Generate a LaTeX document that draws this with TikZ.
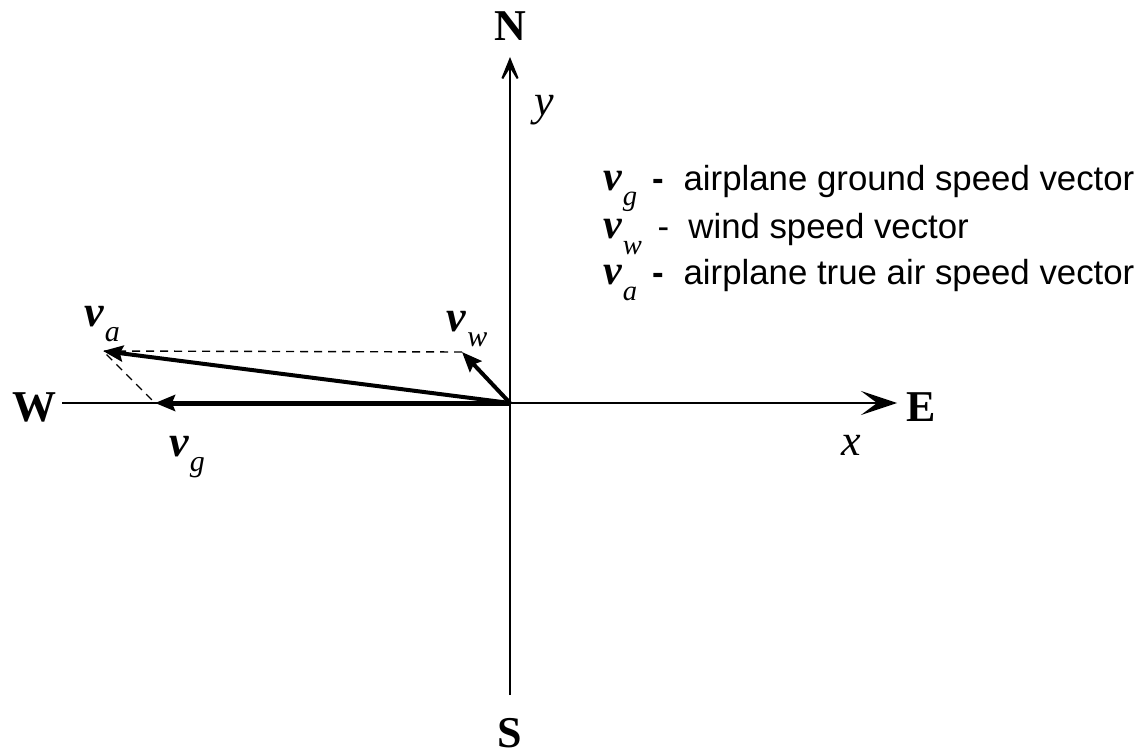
\documentclass[tikz,border=0pt]{standalone}
\usepackage{fontspec}
\setmainfont{Liberation Serif}
\newfontfamily\legendfont{Liberation Sans}
\newfontfamily\vecfont{Liberation Serif}
\usetikzlibrary{arrows.meta}
\makeatletter
\newcommand{\speed}[1]{{\vecfont\bfseries\itshape v}\kern0.03em\raisebox{-0.36em}{\vecfont\fontsize{\strip@pt\dimexpr0.68\dimexpr\f@size pt\relax\relax}{1}\selectfont\itshape #1}}
\makeatother
\tikzset{
  compass/.style={font=\fontsize{22}{22}\selectfont\bfseries},
  axislabel/.style={font=\fontsize{22}{22}\selectfont\itshape},
  veclabel/.style={font=\fontsize{22}{22}\selectfont},
  legend/.style={anchor=west,font=\fontsize{17.4}{17.4}\selectfont\legendfont},
  vec/.style={line width=2pt,-{Stealth[length=10pt,width=8pt,inset=1.5pt]}},
  helper/.style={line width=0.7pt,dash pattern=on 4pt off 3pt}
}
\begin{document}
\begin{tikzpicture}[x=0.5pt,y=-0.5pt]
\useasboundingbox (0,0) rectangle (1141,754);
\coordinate (O) at (510,403);
\coordinate (vgtip) at (155,403);
\coordinate (vwtip) at (462,352);
\coordinate (vatip) at (103,351);
\coordinate (west) at (62,403);
\coordinate (east) at (897,403);
\coordinate (north) at (510,57);
\coordinate (south) at (510,695);
\draw[line width=1pt,-{Stealth[length=18pt,width=12pt,inset=8pt]}] (west) -- (east);
\draw[line width=1pt,-{Stealth[length=16pt,width=13pt,inset=10.5pt]}] (south) -- (north);
\node[compass] (W) at (34,407) {W};
\node[compass] (E) at (921,407) {E};
\node[compass] (N) at (510,26) {N};
\node[compass] (S) at (510,733) {S};
\node[axislabel] (x) at (851,445) {x};
\node[axislabel] (y) at (544,110) {y};
\draw[helper] (vwtip) -- (vatip) -- (vgtip);
\draw[vec,line width=2.5pt] (O) -- (vgtip);
\draw[vec] (O) -- (vatip);
\draw[vec] (O) -- (vwtip);
\node[veclabel] (vglabel) at (187,457) {\speed{g}};
\node[veclabel] (valabel) at (102,324) {\speed{a}};
\node[veclabel] (vwlabel) at (467,329) {\speed{w}};
\node[legend] (leg1) at (596,188) {{\fontsize{21}{21}\selectfont\speed{g}}\hspace{0.45em}\textbf{-}\hspace{0.55em}airplane ground speed vector};
\node[legend] (leg2) at (596,234) {{\fontsize{21}{21}\selectfont\speed{w}}\hspace{0.45em}-\hspace{0.55em}wind speed vector};
\node[legend] (leg3) at (596,280) {{\fontsize{21}{21}\selectfont\speed{a}}\hspace{0.45em}\textbf{-}\hspace{0.55em}airplane true air speed vector};
\end{tikzpicture}
\end{document}
